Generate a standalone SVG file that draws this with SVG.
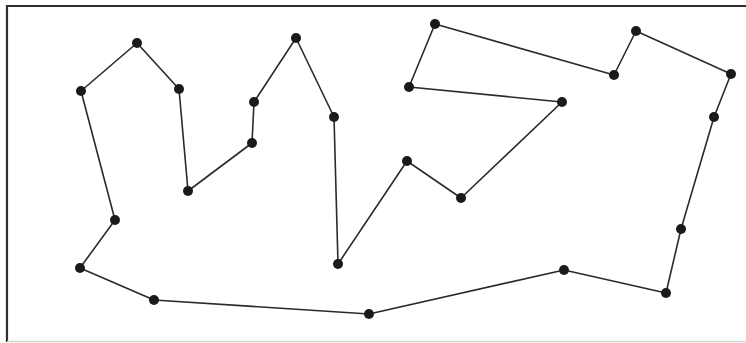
<svg xmlns="http://www.w3.org/2000/svg" width="746" height="343" viewBox="0 0 746 343">
<defs>
<style>
.frame{fill:none;stroke:#2e2e2e;stroke-width:2.2}
.frameb{fill:none;stroke:#d8d2c8;stroke-width:1.5}
.edge{fill:none;stroke:#2a2a2a;stroke-width:1.6;stroke-linejoin:round}
.dot{fill:#1a1a1a}
</style>
</defs>
<rect width="746" height="343" fill="#ffffff"/>
<path class="frame" d="M7,342 L7,6 L746,6"/>
<path class="frameb" d="M7,341.5 L746,341.5"/>
<g id="connectors">
<polygon class="edge" points="137,43 179,89 188,191 252,143 254,102 296,38 334,117 338,264 407,161 461,198 562,102 409,87 435,24 614,75 636,31 731,74 714,117 681,229 666,293 564,270 369,314 154,300 80,268 115,220 81,91"/>
</g>
<g id="n1"><circle class="dot" cx="137" cy="43" r="5"/></g>
<g id="n2"><circle class="dot" cx="179" cy="89" r="5"/></g>
<g id="n3"><circle class="dot" cx="188" cy="191" r="5"/></g>
<g id="n4"><circle class="dot" cx="252" cy="143" r="5"/></g>
<g id="n5"><circle class="dot" cx="254" cy="102" r="5"/></g>
<g id="n6"><circle class="dot" cx="296" cy="38" r="5"/></g>
<g id="n7"><circle class="dot" cx="334" cy="117" r="5"/></g>
<g id="n8"><circle class="dot" cx="338" cy="264" r="5"/></g>
<g id="n9"><circle class="dot" cx="407" cy="161" r="5"/></g>
<g id="n10"><circle class="dot" cx="461" cy="198" r="5"/></g>
<g id="n11"><circle class="dot" cx="562" cy="102" r="5"/></g>
<g id="n12"><circle class="dot" cx="409" cy="87" r="5"/></g>
<g id="n13"><circle class="dot" cx="435" cy="24" r="5"/></g>
<g id="n14"><circle class="dot" cx="614" cy="75" r="5"/></g>
<g id="n15"><circle class="dot" cx="636" cy="31" r="5"/></g>
<g id="n16"><circle class="dot" cx="731" cy="74" r="5"/></g>
<g id="n17"><circle class="dot" cx="714" cy="117" r="5"/></g>
<g id="n18"><circle class="dot" cx="681" cy="229" r="5"/></g>
<g id="n19"><circle class="dot" cx="666" cy="293" r="5"/></g>
<g id="n20"><circle class="dot" cx="564" cy="270" r="5"/></g>
<g id="n21"><circle class="dot" cx="369" cy="314" r="5"/></g>
<g id="n22"><circle class="dot" cx="154" cy="300" r="5"/></g>
<g id="n23"><circle class="dot" cx="80" cy="268" r="5"/></g>
<g id="n24"><circle class="dot" cx="115" cy="220" r="5"/></g>
<g id="n25"><circle class="dot" cx="81" cy="91" r="5"/></g>
</svg>
